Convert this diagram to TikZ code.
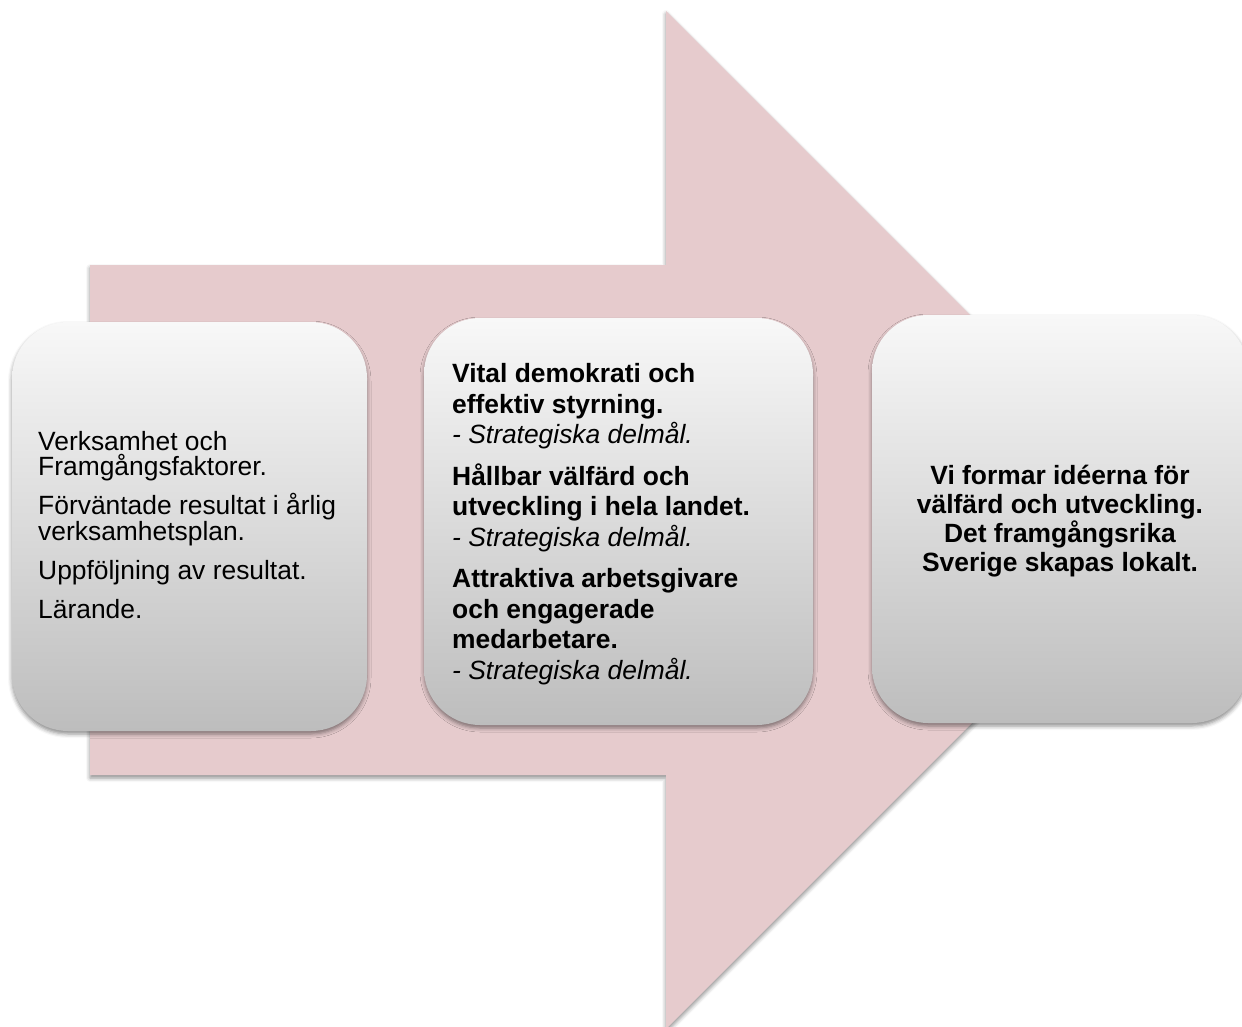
\documentclass[tikz,border=0pt]{standalone}
\usepackage{fontspec}
\setmainfont{Liberation Sans}
\usetikzlibrary{shadows.blur}
\definecolor{arrowpink}{HTML}{E6CBCD}
\definecolor{boxtop}{HTML}{F8F8F8}
\definecolor{boxbot}{HTML}{BDBDBD}
\newcommand{\fixspace}{\spaceskip=\fontdimen2\font\relax\xspaceskip=\fontdimen2\font\relax}
\begin{document}
\begin{tikzpicture}[x=1pt,y=-1pt,
  softshadow/.style={blur shadow={shadow xshift=0pt, shadow yshift=-3pt, shadow blur radius=4pt, shadow opacity=45}},
  box/.style={rectangle, rounded corners=56pt, top color=boxtop, bottom color=boxbot, draw=none, inner sep=0pt, softshadow},
  txt/.style={inner sep=0pt, text=black}]
\useasboundingbox (0,0) rectangle (1242,1027);
\clip (0,0) rectangle (1242,1027);
% big arrow
\coordinate (a1) at (90,265);
\coordinate (a2) at (666,265);
\coordinate (a3) at (666,11);
\coordinate (tip) at (1175,520);
\coordinate (a5) at (666,1029);
\coordinate (a6) at (666,775);
\coordinate (a7) at (90,775);
\path[fill=arrowpink, softshadow] (a1) -- (a2) -- (a3) -- (tip) -- (a5) -- (a6) -- (a7) -- cycle;
% boxes
\node[box, minimum width=355pt, minimum height=409pt] (left) at (189.5,526.5) {};
\node[box, minimum width=389pt, minimum height=407pt] (mid) at (618.5,521.5) {};
\node[box, minimum width=376pt, minimum height=408pt] (right) at (1060,519) {};
% texts
\node[txt, text width=322pt, align=left, anchor=base west] (lefttext) at (38,450)
 {\fontsize{26.4}{25.8}\selectfont\fixspace\setlength{\parskip}{13.2pt}\setlength{\lineskiplimit}{-20pt}%
  Verksamhet och\\Framgångsfaktorer.\par
  Förväntade resultat i årlig\\verksamhetsplan.\par
  Uppföljning av resultat.\par
  Lärande.\par};
\node[txt, text width=350pt, align=left, anchor=base west] (midtext) at (452,382.7)
 {\fontsize{26.4}{30.5}\selectfont\fixspace\setlength{\parskip}{11pt}\setlength{\lineskiplimit}{-20pt}%
  \textbf{Vital demokrati och}\\\textbf{effektiv styrning.}\\\textit{- Strategiska delmål.}\par
  \textbf{Hållbar välfärd och}\\\textbf{utveckling i hela landet.}\\\textit{- Strategiska delmål.}\par
  \textbf{Attraktiva arbetsgivare}\\\textbf{och engagerade}\\\textbf{medarbetare.}\\\textit{- Strategiska delmål.}\par};
\node[txt, text width=360pt, align=center, anchor=base] (righttext) at (1060,484)
 {\fontsize{26.4}{29.2}\selectfont\bfseries\fixspace\setlength{\lineskiplimit}{-20pt}%
  Vi formar idéerna för\\välfärd och utveckling.\\Det framgångsrika\\Sverige skapas lokalt.\par};
\end{tikzpicture}
\end{document}
